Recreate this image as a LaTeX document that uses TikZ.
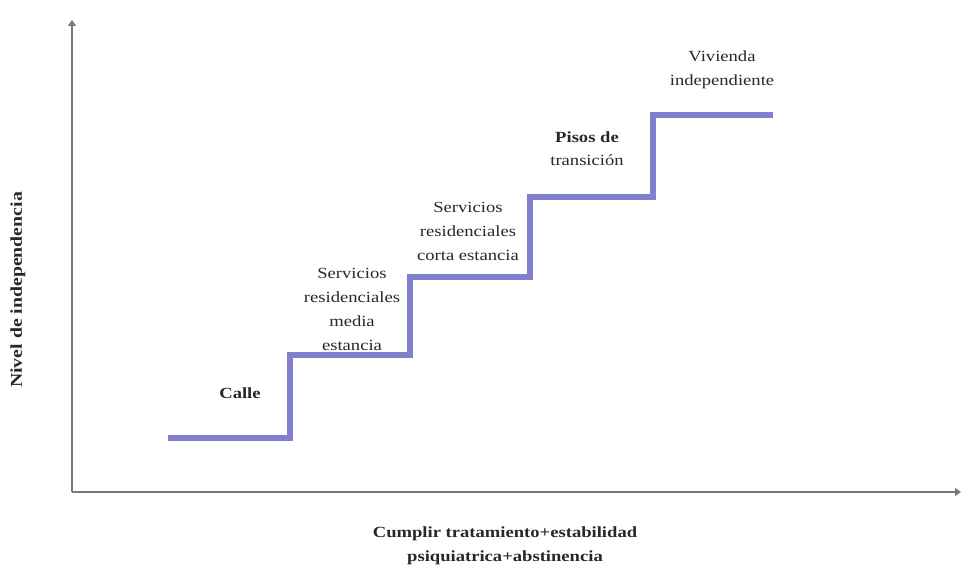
\documentclass[tikz,border=0pt]{standalone}
\usepackage{fontspec}
\setmainfont{Liberation Serif}[FakeStretch=1.2]
\usetikzlibrary{arrows.meta}
\definecolor{stepblue}{RGB}{128,128,204}
\definecolor{axisgray}{RGB}{120,120,120}
\definecolor{txt}{RGB}{40,40,40}
\begin{document}
\begin{tikzpicture}[x=1pt,y=-1pt,
  lbl/.style={align=center,font=\fontsize{15.5}{24}\selectfont,text=txt,inner sep=0pt},
  blbl/.style={lbl,font=\fontsize{15.5}{24}\selectfont\bfseries},
  axisline/.style={draw=axisgray,line width=1.3pt},
  stair/.style={draw=stepblue,line width=5.5pt,line join=miter}]
\useasboundingbox (0,0) rectangle (961,567);
\fill[white] (0,0) rectangle (961,567);
% axes
\coordinate (O) at (72,492);
\coordinate (ytop) at (72,20);
\coordinate (xend) at (961,492);
\draw[axisline,-{Triangle[width=8pt,length=6pt]}] (O) -- (ytop);
\draw[axisline,-{Triangle[width=8pt,length=6pt]}] (O) -- (xend);
% stairs
\coordinate (s0) at (168,438);
\coordinate (s1) at (290,438);
\coordinate (s2) at (290,355);
\coordinate (s3) at (410,355);
\coordinate (s4) at (410,277);
\coordinate (s5) at (530,277);
\coordinate (s6) at (530,197);
\coordinate (s7) at (653,197);
\coordinate (s8) at (653,115);
\coordinate (s9) at (773,115);
\draw[stair] (s0) -- (s1) -- (s2) -- (s3) -- (s4) -- (s5) -- (s6) -- (s7) -- (s8) -- (s9);
% labels
\node[blbl] (calle) at (240,393) {Calle};
\node[lbl] (media) at (352,309) {Servicios\\residenciales\\media\\estancia};
\node[lbl] (corta) at (468,231) {Servicios\\residenciales\\corta estancia};
\node[blbl] (pisos) at (587,149) {Pisos de\\[-1pt]\mdseries transición};
\node[lbl] (viv) at (722,70) {Vivienda\\independiente};
\node[blbl] (xlab) at (505,546) {Cumplir tratamiento+estabilidad\\psiquiatrica+abstinencia};
\node[blbl,rotate=90,font=\fontsize{16.5}{24}\selectfont\bfseries] (ylab) at (18,290) {Nivel de independencia};
\end{tikzpicture}
\end{document}
